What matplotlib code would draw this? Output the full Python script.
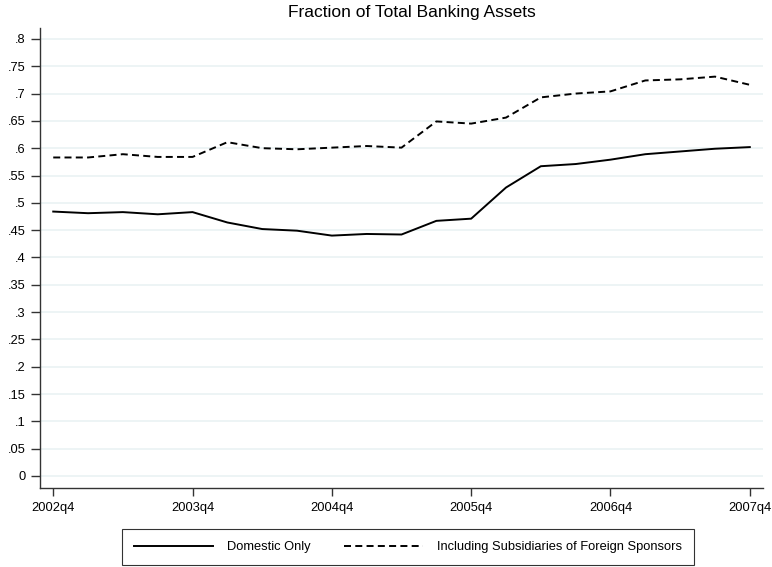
import matplotlib
matplotlib.use("Agg")
import matplotlib.pyplot as plt

plt.rcParams['font.family'] = ['Liberation Sans', 'DejaVu Sans']

quarters = ["2002q4", "2003q1", "2003q2", "2003q3", "2003q4",
            "2004q1", "2004q2", "2004q3", "2004q4",
            "2005q1", "2005q2", "2005q3", "2005q4",
            "2006q1", "2006q2", "2006q3", "2006q4",
            "2007q1", "2007q2", "2007q3", "2007q4"]

domestic_only = [0.484, 0.481, 0.483, 0.479, 0.483,
                 0.464, 0.452, 0.449, 0.440,
                 0.443, 0.442, 0.467, 0.471,
                 0.528, 0.567, 0.571, 0.579,
                 0.589, 0.594, 0.599, 0.602]

incl_foreign = [0.583, 0.583, 0.589, 0.584, 0.584,
                0.611, 0.600, 0.598, 0.601,
                0.604, 0.601, 0.649, 0.645,
                0.656, 0.693, 0.700, 0.704,
                0.724, 0.726, 0.731, 0.716]

tick_labels = ["2002q4", "2003q4", "2004q4", "2005q4", "2006q4", "2007q4"]
y_ticks = [0, .05, .1, .15, .2, .25, .3, .35, .4, .45, .5, .55, .6, .65, .7, .75, .8]

x = list(range(len(quarters)))

fig = plt.figure(figsize=(7.72, 5.67), dpi=100)
ax = fig.add_axes([40 / 772, 1 - 488 / 567, (762.7 - 40) / 772, (488 - 28) / 567])

for v in y_ticks:
    ax.axhline(v, color="#eaf2f3", lw=1.2, zorder=0)

l1, = ax.plot(x, domestic_only, color="black", lw=1.4, label="Domestic Only")
l2, = ax.plot(x, incl_foreign, color="black", lw=1.4, ls=(0, (3.6, 2.2)),
              label="Including Subsidiaries of Foreign Sponsors")

ax.set_xlim(-0.38, 20.37)
ax.set_ylim(-0.022, 0.82)

ax.set_yticks(y_ticks)
ax.set_yticklabels(["0" if v == 0 else ("%.2f" % v).lstrip("0").rstrip("0") for v in y_ticks])
ax.set_xticks([quarters.index(q) for q in tick_labels])
ax.set_xticklabels(tick_labels)

for s in ["top", "right"]:
    ax.spines[s].set_visible(False)
for s in ["left", "bottom"]:
    ax.spines[s].set_color("#333333")
    ax.spines[s].set_linewidth(1.0)
ax.tick_params(axis="both", direction="out", width=1.0,
               color="#333333", labelsize=9.3)
ax.tick_params(axis="y", length=6.5, pad=4)
ax.tick_params(axis="x", length=5.5, pad=4.5)

fig.text(412 / 772, 1 - 13 / 567, "Fraction of Total Banking Assets",
         ha="center", va="center", fontsize=12.5)

leg = fig.legend(handles=[l1, l2], loc="center",
                 bbox_to_anchor=(408 / 772, 1 - 547 / 567),
                 ncol=2, fontsize=9.3, frameon=True, fancybox=False,
                 edgecolor="black", handlelength=6.1, handletextpad=1.1,
                 columnspacing=2.6, borderpad=0.9)
leg.get_frame().set_linewidth(0.8)

fig.savefig("out.png", dpi=100)
